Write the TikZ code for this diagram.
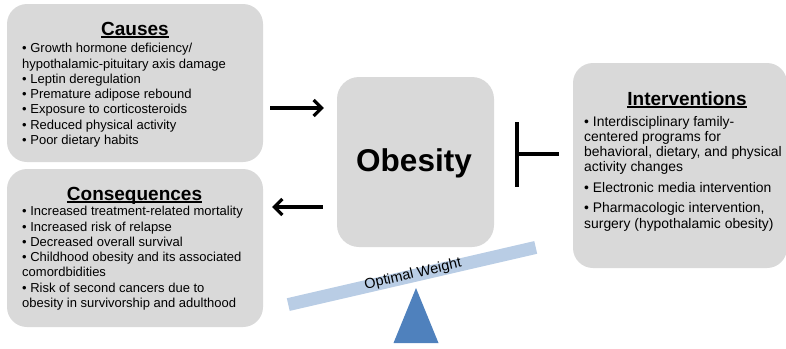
\documentclass[tikz,border=0pt]{standalone}
\usepackage{fontspec}
\setmainfont{Liberation Sans}
\usetikzlibrary{arrows.meta}
\definecolor{boxgray}{HTML}{D9D9D9}
\definecolor{plankblue}{HTML}{B9CDE5}
\definecolor{triblue}{HTML}{4F81BD}
\newcommand{\mytitle}[1]{\setbox0\hbox{#1}\rlap{\usebox0}\rule[-2.8pt]{\wd0}{1.4pt}}
\begin{document}
\begin{tikzpicture}[x=1pt,y=-1pt,
  box/.style={draw=none, fill=boxgray, rounded corners=20pt, inner sep=0pt},
  ttl/.style={font=\fontsize{19}{22}\selectfont\bfseries, anchor=base, inner sep=0pt},
  body/.style={font=\fontsize{13}{15.3}\selectfont, align=left, anchor=base west, inner sep=0pt},
  arr/.style={line width=3.2pt, -{Straight Barb[length=8pt,width=16pt]}},
  inhib/.style={line width=4pt, -{Bar[width=65pt]}}
]
\useasboundingbox (0,0) rectangle (786,348);
% boxes
\node[box, minimum width=256pt, minimum height=158pt] (causes) at (135,83) {};
\node[box, minimum width=256pt, minimum height=158pt] (conseq) at (135,248) {};
\node[box, minimum width=214pt, minimum height=205pt] (interv) at (680,165.5) {};
\node[box, rounded corners=22pt, minimum width=157pt, minimum height=170pt] (obesity) at (415.5,162) {};
% titles
\node[ttl] (tcauses) at (135,35) {\mytitle{Causes}};
\node[ttl] (tconseq) at (134.5,200) {\mytitle{Consequences}};
\node[ttl] (tinterv) at (687,105) {\mytitle{Interventions}};
\node[font=\fontsize{31.5}{36}\selectfont\bfseries, anchor=base, inner sep=0pt] (tobes) at (414,171) {Obesity};
% bodies (anchor = baseline of last line)
\node[body] (bcauses) at (22,144.5) {• Growth hormone deficiency/\\
hypothalamic-pituitary axis damage\\
• Leptin deregulation\\
• Premature adipose rebound\\
• Exposure to corticosteroids\\
• Reduced physical activity\\
• Poor dietary habits};
\node[body] (bconseq) at (22,307.5) {• Increased treatment-related mortality\\
• Increased risk of relapse\\
• Decreased overall survival\\
• Childhood obesity and its associated\\
comordbidities\\
• Risk of second cancers due to\\
obesity in survivorship and adulthood};
\node[body, font=\fontsize{13.9}{15.1}\selectfont] (binterv) at (584,228) {• Interdisciplinary family-\\
centered programs for\\
behavioral, dietary, and physical\\
activity changes\\[5.6pt]
• Electronic media intervention\\[5.6pt]
• Pharmacologic intervention,\\
surgery (hypothalamic obesity)};
% connectors
\coordinate (ya) at (0,108);
\coordinate (yb) at (0,207);
\coordinate (tb) at (515,154);
\draw[arr, shorten <=7pt, shorten >=13pt] (causes.east |- ya) -- (obesity.west |- ya);
\draw[arr, shorten <=14pt, shorten >=9pt] (obesity.west |- yb) -- (conseq.east |- yb);
\draw[inhib, shorten <=14pt] (interv.west |- tb) -- (tb);
% seesaw
\node[fill=plankblue, inner sep=0pt, minimum width=254pt, minimum height=13pt, rotate=13] (plank) at (412,276) {};
\node[font=\fontsize{14.5}{16}\selectfont, rotate=13, inner sep=0pt] (optw) at (413,274.5) {Optimal Weight};
\fill[triblue] (416,288) -- (438.5,343) -- (393.5,343) -- cycle;
\end{tikzpicture}
\end{document}
